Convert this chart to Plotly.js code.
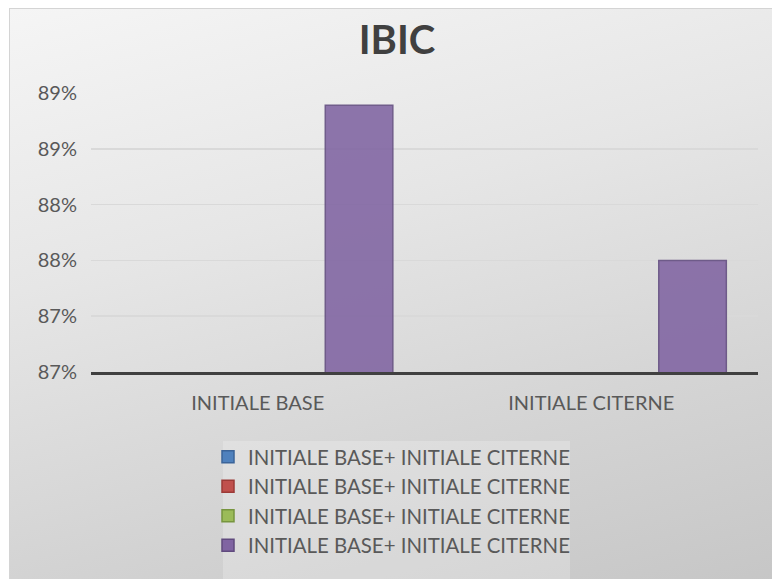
<!DOCTYPE html>
<html>
<head>
<meta charset="utf-8">
<script src="https://cdn.plot.ly/plotly-3.0.1.min.js"></script>
<style>
  html, body { margin: 0; padding: 0; background: #ffffff; overflow: hidden; }
  #frame {
    position: absolute; left: 9px; top: 8px; width: 800px; height: 600px;
    border-left: 1px solid #d4d4d4; border-top: 1px solid #d4d4d4;
    background: linear-gradient(165deg, #f5f5f5 0%, #e6e6e6 35%, #d3d3d3 70%, #c4c4c4 100%);
  }
  #chart { position: absolute; left: 0; top: 0; width: 772px; height: 579px; }
</style>
</head>
<body>
<div id="frame"></div>
<div id="chart"></div>
<script>
// ---- data ----
var categories = ["INITIALE BASE", "INITIALE CITERNE"];
var seriesNames = [
  "INITIALE BASE+ INITIALE CITERNE",
  "INITIALE BASE+ INITIALE CITERNE",
  "INITIALE BASE+ INITIALE CITERNE",
  "INITIALE BASE+ INITIALE CITERNE"
];
var seriesBlue   = [0, 0];
var seriesRed    = [0, 0];
var seriesGreen  = [0, 0];
var seriesPurple = [0.8889, 0.8750];
var yTickValues = [0.865, 0.870, 0.875, 0.880, 0.885, 0.890];
var yTickLabels = ["87%", "87%", "88%", "88%", "89%", "89%"];
var chartTitle = "IBIC";

// ---- styling ----
var fills = ["#4f81bd", "#c0504d", "#9bbb59", "#8064a2"];
var edges = ["#3b6499", "#9c3a37", "#77953f", "#604a7e"];
var seriesValues = [seriesBlue, seriesRed, seriesGreen, seriesPurple];
var FONT = "Lato, 'Open Sans', sans-serif";

var traces = seriesValues.map(function (vals, i) {
  return {
    type: "bar",
    name: seriesNames[i],
    x: categories,
    y: vals,
    marker: { color: fills[i], opacity: 0.88, line: { color: edges[i], width: 1.5 } },
    hoverinfo: "skip"
  };
});

var W = 772, H = 579;
var L = 91, R = 758, T = 93, B = 372;
function px(x) { return (x - L) / (R - L); }
function py(y) { return (B - y) / (B - T); }

var layout = {
  width: W, height: H,
  margin: { l: L, r: W - R, t: T, b: H - B, pad: 0, autoexpand: false },
  paper_bgcolor: "rgba(0,0,0,0)",
  plot_bgcolor: "rgba(0,0,0,0)",
  font: { family: FONT, color: "#595959", size: 20 },
  title: {
    text: "<b>" + chartTitle + "</b>",
    font: { family: FONT, size: 40, color: "#404040" },
    xref: "container", yref: "container",
    x: 397 / W, xanchor: "center",
    y: 1 - 40 / H, yanchor: "middle"
  },
  barmode: "group",
  bargap: 0.19,
  bargroupgap: 0,
  showlegend: true,
  legend: {
    orientation: "v",
    x: px(208), xanchor: "left",
    y: py(437), yanchor: "top",
    bgcolor: "rgba(0,0,0,0)",
    font: { family: FONT, size: 20.4, color: "#595959" },
    traceorder: "normal",
    tracegroupgap: 0
  },
  xaxis: {
    type: "category",
    automargin: false,
    showgrid: false,
    showline: true, linecolor: "#404040", linewidth: 3,
    ticks: "", ticklabelstandoff: 11,
    tickfont: { family: FONT, size: 20, color: "#595959" },
    zeroline: false
  },
  yaxis: {
    automargin: false,
    range: [0.865, 0.890],
    tickmode: "array",
    tickvals: yTickValues,
    ticktext: yTickLabels,
    showgrid: true, gridcolor: "#d9d9d9", gridwidth: 1.5,
    showline: false, zeroline: false,
    ticks: "", ticklabelstandoff: 13,
    tickfont: { family: FONT, size: 20, color: "#595959" }
  },
  shapes: [{
    type: "rect", xref: "paper", yref: "paper", layer: "below",
    x0: px(223), x1: px(570), y0: py(600), y1: py(441),
    fillcolor: "rgba(255,255,255,0.22)", line: { width: 0 }
  }]
};

Plotly.newPlot("chart", traces, layout, { displayModeBar: false, staticPlot: true });
</script>
</body>
</html>
